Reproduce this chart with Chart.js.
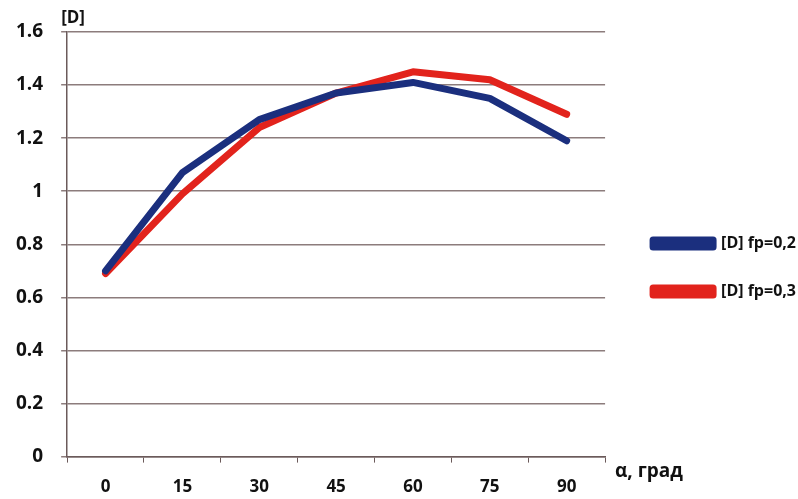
<!DOCTYPE html>
<html><head><meta charset="utf-8">
<script src="https://cdn.jsdelivr.net/npm/chart.js@4/dist/chart.umd.min.js"></script>
<style>html,body{margin:0;padding:0;background:#fff}#c{display:block}</style>
</head><body>
<canvas id="c" width="798" height="499"></canvas>
<script>
const categories = ['0','15','30','45','60','75','90'];
const seriesA = [0.70, 1.07, 1.27, 1.37, 1.41, 1.35, 1.19];
const seriesB = [0.69, 0.99, 1.24, 1.37, 1.45, 1.42, 1.29];
const seriesNames = ['[D] fp=0,2', '[D] fp=0,3'];
const yTitle = '[D]';
const xTitle = 'α, град';

const titles = {
  id: 'titles',
  beforeDraw(chart) {
    const lg = chart.legend;
    if (lg && !lg._shifted) { lg.left += 16; lg.right += 16; lg.top -= 4; lg.bottom -= 4; lg._shifted = true; }
  },
  afterDraw(chart) {
    const ctx = chart.ctx, a = chart.chartArea;
    ctx.save();
    ctx.fillStyle = '#111';
    ctx.font = 'bold 17px "Open Sans"';
    ctx.textBaseline = 'alphabetic';
    ctx.fillText(yTitle, a.left - 6, a.top - 9);
    ctx.font = 'bold 19px "Open Sans"';
    ctx.fillText(xTitle, a.right + 10, a.bottom + 20);
    ctx.restore();
  }
};

new Chart(document.getElementById('c'), {
  type: 'line',
  data: {
    labels: categories,
    datasets: [
      {label: seriesNames[0], data: seriesA, borderColor: '#1b2f7e', backgroundColor: '#1b2f7e', borderWidth: 7, pointRadius: 0, tension: 0, borderCapStyle: 'round', borderJoinStyle: 'round'},
      {label: seriesNames[1], data: seriesB, borderColor: '#e2231c', backgroundColor: '#e2231c', borderWidth: 7, pointRadius: 0, tension: 0, borderCapStyle: 'round', borderJoinStyle: 'round'}
    ]
  },
  options: {
    responsive: false,
    animation: false,
    layout: {padding: {top: 32, right: 8, left: -2, bottom: -12}},
    plugins: {
      tooltip: {enabled: false},
      legend: {
        position: 'right',
        align: 'center',
        labels: {
          boxWidth: 60, boxHeight: 7, padding: 32,
          color: '#111',
          font: {family: '"Open Sans"', size: 16, weight: 'bold'}
        }
      }
    },
    scales: {
      x: {
        offset: true,
        grid: {offset: true, drawOnChartArea: false, drawTicks: true, tickLength: 6, color: '#6b5a5a'},
        border: {color: '#6b5a5a', width: 1.5},
        ticks: {color: '#111', padding: 14, font: {family: '"Open Sans"', size: 17, weight: 'bold'}}
      },
      y: {
        min: 0, max: 1.6,
        ticks: {stepSize: 0.2, color: '#111', padding: 18, font: {family: '"Open Sans"', size: 19, weight: 'bold'},
          callback: v => String(Math.round(v * 10) / 10)},
        grid: {color: '#8c7c7c', lineWidth: 1.5, tickLength: 6},
        border: {color: '#6b5a5a', width: 1.5}
      }
    }
  },
  plugins: [titles]
});
</script>
</body></html>
